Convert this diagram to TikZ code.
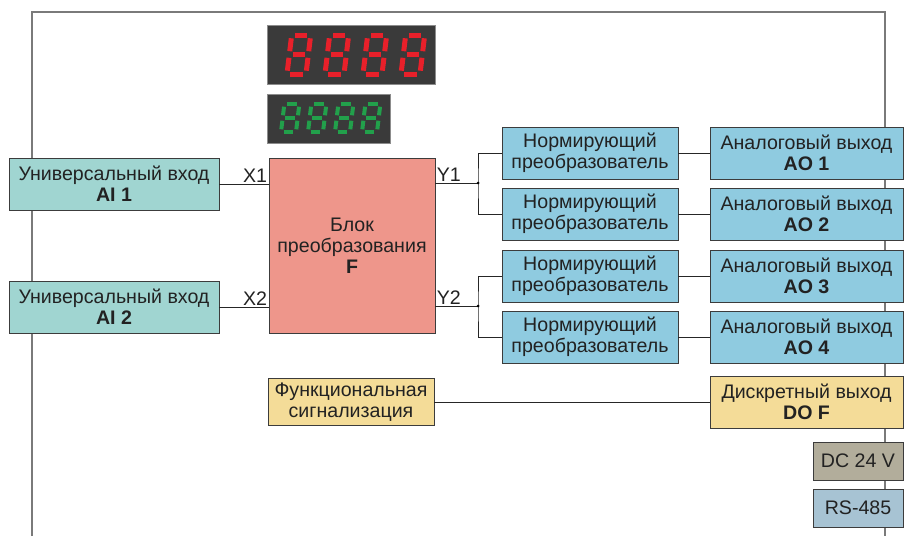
\documentclass[tikz,border=0pt]{standalone}
\usepackage{fontspec}
\setmainfont{Liberation Sans}
\definecolor{frameline}{HTML}{7A7A7A}
\definecolor{boxline}{HTML}{3C3C3C}
\definecolor{txt}{HTML}{222222}
\definecolor{aifill}{HTML}{A0D5D1}
\definecolor{ffill}{HTML}{EE968B}
\definecolor{aofill}{HTML}{8FCBE0}
\definecolor{dofill}{HTML}{F4DC98}
\definecolor{dcfill}{HTML}{B2AD9B}
\definecolor{rsfill}{HTML}{A7C3D3}
\definecolor{dispbg}{HTML}{3A3A3A}
\definecolor{segred}{HTML}{E8202A}
\definecolor{seggreen}{HTML}{22A04B}
\newcommand\segdig[6]{%
  \begin{scope}[shift={(#1,#2)}, xslant=0.12]
    \draw[#6] (#5,0) -- (#3-#5,0);
    \draw[#6] (#5,-#4/2) -- (#3-#5,-#4/2);
    \draw[#6] (#5,-#4) -- (#3-#5,-#4);
    \draw[#6] (0,-#5) -- (0,-#4/2+#5);
    \draw[#6] (0,-#4/2-#5) -- (0,-#4+#5);
    \draw[#6] (#3,-#5) -- (#3,-#4/2+#5);
    \draw[#6] (#3,-#4/2-#5) -- (#3,-#4+#5);
  \end{scope}}
\begin{document}
\begin{tikzpicture}[x=1pt,y=-1pt,
  box/.style={draw=boxline, line width=0.9pt, text=txt, align=center, inner sep=0pt,
    font=\fontsize{19.6}{21}\selectfont},
  sz/.style 2 args={minimum width=#1pt, minimum height=#2pt},
  wire/.style={draw=black!85, line width=0.9pt},
  lbl/.style={text=txt, inner sep=1pt, font=\fontsize{19.6}{21}\selectfont},
  disp/.style={fill=dispbg, draw=black!45, line width=0.6pt},
  rseg/.style={draw=segred, line width=5pt},
  gseg/.style={draw=seggreen, line width=4pt}]
\useasboundingbox (0,0) rectangle (904,536);
% frame
\draw[frameline, line width=1.4pt] (32,536) -- (32,12) -- (885,12) -- (885,536);
% displays
\path[disp] (267,25) rectangle (435,84);
\foreach \i in {0,...,3} {\segdig{287+38*\i}{74}{19}{39}{3.3}{rseg}}
\path[disp] (267,94) rectangle (390,143);
\foreach \i in {0,...,3} {\segdig{281+27*\i}{132}{15}{28}{2.7}{gseg}}
% boxes
\node[box, fill=aifill, sz={210}{52}] (ai1) at (114,184) {Универсальный вход\\\textbf{AI 1}};
\node[box, fill=aifill, sz={210}{52}] (ai2) at (114,307) {Универсальный вход\\\textbf{AI 2}};
\node[box, fill=ffill, sz={166}{175}] (f) at (352,245.5) {Блок\\преобразования\\\textbf{F}};
\node[box, fill=aofill, sz={176}{52}] (n1) at (590,153) {Нормирующий\\преобразователь};
\node[box, fill=aofill, sz={176}{52}] (n2) at (590,214) {Нормирующий\\преобразователь};
\node[box, fill=aofill, sz={176}{52}] (n3) at (590,276) {Нормирующий\\преобразователь};
\node[box, fill=aofill, sz={176}{52}] (n4) at (590,337) {Нормирующий\\преобразователь};
\node[box, fill=aofill, sz={193}{52}] (ao1) at (806.5,153) {Аналоговый выход\\\textbf{AO 1}};
\node[box, fill=aofill, sz={193}{52}] (ao2) at (806.5,214) {Аналоговый выход\\\textbf{AO 2}};
\node[box, fill=aofill, sz={193}{52}] (ao3) at (806.5,276) {Аналоговый выход\\\textbf{AO 3}};
\node[box, fill=aofill, sz={193}{52}] (ao4) at (806.5,337) {Аналоговый выход\\\textbf{AO 4}};
\node[box, fill=dofill, sz={166}{47}] (fs) at (351,402) {Функциональная\\сигнализация};
\node[box, fill=dofill, sz={193}{52}] (do) at (806.5,402) {Дискретный выход\\\textbf{DO F}};
\node[box, fill=dcfill, sz={90}{38}] (dc) at (858,461) {DC 24 V};
\node[box, fill=rsfill, sz={90}{38}] (rs) at (858,508) {RS-485};
% wires
\coordinate (j1) at (478,183);
\coordinate (j2) at (478,306);
\draw[wire] (ai1.east) -- (ai1.east -| f.west) node[lbl, pos=1, anchor=south east] {X1};
\draw[wire] (ai2.east) -- (ai2.east -| f.west) node[lbl, pos=1, anchor=south east] {X2};
\draw[wire] (j1 -| f.east) node[lbl, anchor=south west] {Y1} -- (j1);
\draw[wire] (j2 -| f.east) node[lbl, anchor=south west] {Y2} -- (j2);
\draw[wire] (n1.west) -| (j1) |- (n2.west);
\draw[wire] (n3.west) -| (j2) |- (n4.west);
\fill[black] (j1) circle (1.5pt);
\fill[black] (j2) circle (1.5pt);
\draw[wire] (n1.east) -- (ao1.west);
\draw[wire] (n2.east) -- (ao2.west);
\draw[wire] (n3.east) -- (ao3.west);
\draw[wire] (n4.east) -- (ao4.west);
\draw[wire] (fs.east) -- (do.west);
\end{tikzpicture}
\end{document}
